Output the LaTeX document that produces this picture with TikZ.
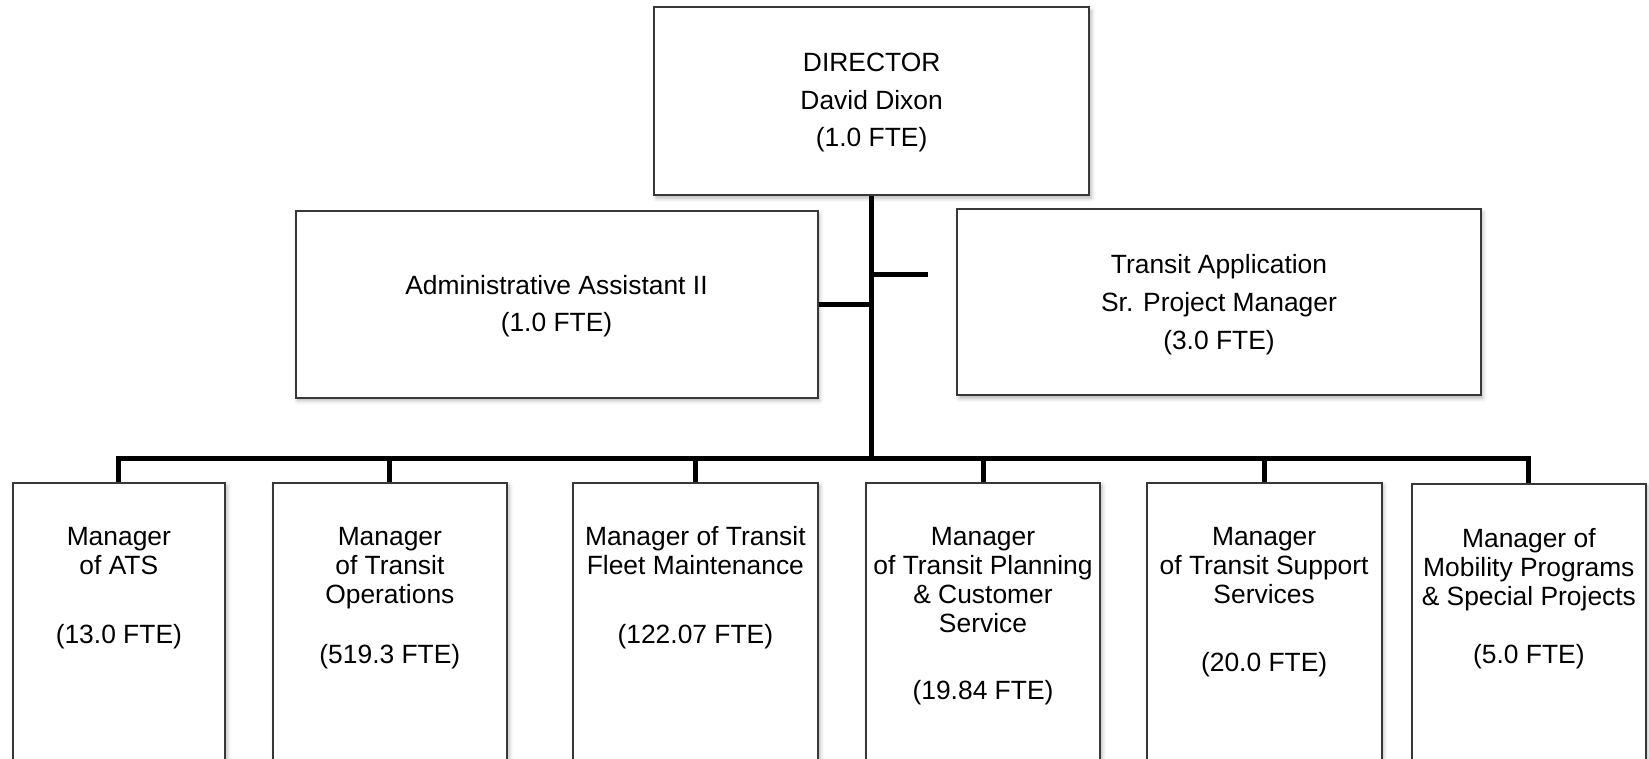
\documentclass[tikz,border=0pt]{standalone}
\usepackage{fontspec}
\setmainfont{Liberation Sans}
\usetikzlibrary{shadows.blur}
% centred lines whose baseline is the baseline of the first line
\newcommand\ttlines[1]{\begin{tabular}[t]{@{}c@{}}#1\end{tabular}}

\begin{document}
\begin{tikzpicture}[x=0.5pt,y=-0.5pt,
  box/.style={draw=black!78, line width=1pt, fill=white, inner sep=0pt,
    blur shadow={shadow xshift=1pt, shadow yshift=-1.5pt,
      shadow blur radius=2pt, shadow opacity=30}},
  wire/.style={line width=2.5pt, black},
  upper/.style={anchor=base, inner sep=0pt, font=\fontsize{13.2}{18.8}\selectfont},
  lower/.style={anchor=base, inner sep=0pt, font=\fontsize{13.2}{14.6}\selectfont},
]
\useasboundingbox (0,0) rectangle (1649,759);
\clip (0,0) rectangle (1649,759);

% ---- top level ----
\node[box, minimum width=217.65pt, minimum height=93.85pt] (dir) at (871.65,101.15) {};
\node[upper] (dirt) at (871.65,71.5) {\ttlines{DIRECTOR\\David Dixon\\(1.0 FTE)}};

% ---- staff positions ----
\node[box, minimum width=261pt, minimum height=93pt] (admin) at (556.5,304.5) {};
\node[upper] (admint) at (556.5,294) {\ttlines{Administrative Assistant II\\(1.0 FTE)}};

\node[box, minimum width=261.75pt, minimum height=93pt] (tap) at (1219,302.35) {};
\node[upper] (tapt) at (1219,274) {\ttlines{Transit Application\\Sr. Project Manager\\(3.0 FTE)}};

% ---- managers ----
\node[box, minimum width=106.15pt, minimum height=168.75pt] (m1) at (118.85,651.25) {};
\node[box, minimum width=117.15pt, minimum height=168.75pt] (m2) at (389.85,651.25) {};
\node[box, minimum width=122.65pt, minimum height=168.75pt] (m3) at (695.35,651.25) {};
\node[box, minimum width=117pt,    minimum height=168.75pt] (m4) at (983,651.25) {};
\node[box, minimum width=117.4pt,  minimum height=168.75pt] (m5) at (1264.1,651.25) {};
\node[box, minimum width=116.85pt, minimum height=168.25pt] (m6) at (1528.85,651.75) {};

\node[lower] (t1) at (118.85,545) {\ttlines{Manager\\of ATS}};
\node[lower] (f1) at (118.85,643) {(13.0 FTE)};
\node[lower] (t2) at (389.85,545) {\ttlines{Manager\\of Transit\\Operations}};
\node[lower] (f2) at (389.85,663) {(519.3 FTE)};
\node[lower] (t3) at (695.35,545) {\ttlines{Manager of Transit\\Fleet Maintenance}};
\node[lower] (f3) at (695.35,643) {(122.07 FTE)};
\node[lower] (t4) at (983,545) {\ttlines{Manager\\of Transit Planning\\\& Customer\\Service}};
\node[lower] (f4) at (983,699) {(19.84 FTE)};
\node[lower] (t5) at (1264.1,545) {\ttlines{Manager\\of Transit Support\\Services}};
\node[lower] (f5) at (1264.1,671) {(20.0 FTE)};
\node[lower] (t6) at (1528.85,547) {\ttlines{Manager of\\Mobility Programs\\\& Special Projects}};
\node[lower] (f6) at (1528.85,663) {(5.0 FTE)};

% ---- connectors ----
\coordinate (hub) at (871.65,458);
\coordinate (stubR) at (928,275);
\draw[wire] (dir.south) -- (hub);
\draw[wire] (m1.north) |- (hub) -| (m6.north);
\foreach \m in {m2,m3,m4,m5}
  \draw[wire] (\m.north) -- (\m.north |- hub);
\draw[wire] (admin.east) -- (admin.east -| hub);
\draw[wire] (hub |- stubR) -- (stubR);
\end{tikzpicture}
\end{document}
